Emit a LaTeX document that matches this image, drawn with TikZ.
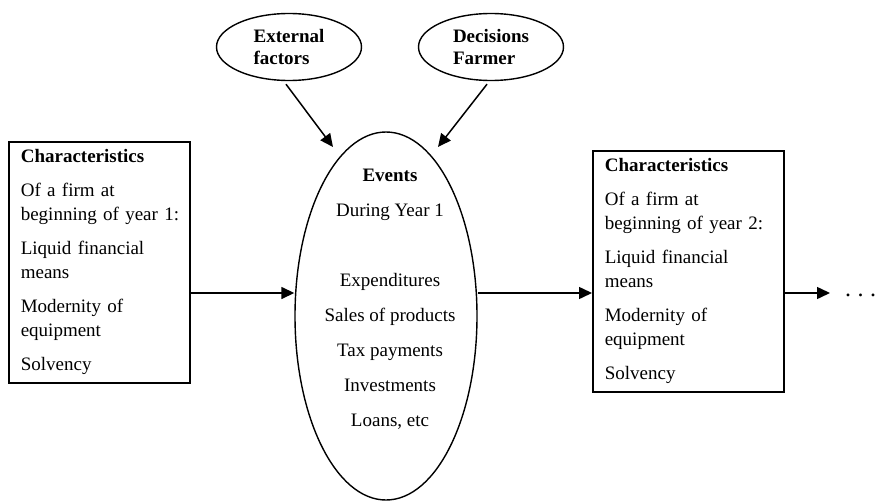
\documentclass[tikz,border=0pt]{standalone}
\usepackage{fontspec}
\setmainfont{Liberation Serif}
\usetikzlibrary{arrows.meta,shapes.geometric,calc}
\begin{document}
\begin{tikzpicture}[x=1pt,y=-1pt,
  every node/.style={font=\fontsize{19}{24}\selectfont},
  charbox/.style={draw,line width=1.6pt,rectangle,anchor=north west,align=left,inner xsep=12pt,inner ysep=4pt,minimum height=241pt},
  oval/.style={draw,line width=1.4pt,ellipse,inner sep=0pt},
  toptext/.style={align=left,font=\bfseries\fontsize{19}{22}\selectfont},
  arr/.style={-{Triangle[length=13pt,width=12pt]},line width=1.5pt}]
\useasboundingbox (0,0) rectangle (875,503);

\node[charbox,text width=157pt] (lbox) at (8,141) {\textbf{Characteristics}\\[10pt]
 Of a firm at\\\mbox{beginning of year 1:}\\[10pt]
 Liquid financial\\means\\[10pt]
 Modernity of\\equipment\\[10pt]
 Solvency};

\node[charbox,text width=167pt] (rbox) at (592,150) {\textbf{Characteristics}\\[10pt]
 Of a firm at\\\mbox{beginning of year 2:}\\[10pt]
 Liquid financial\\means\\[10pt]
 Modernity of\\equipment\\[10pt]
 Solvency};

\node[oval,minimum width=182pt,minimum height=368pt] (ev) at (386,316) {};
\node[align=center] (evtext) at (390,299) {\textbf{Events}\\[11pt]
 During Year 1\\[46pt]
 Expenditures\\[11pt]
 Sales of products\\[11pt]
 Tax payments\\[11pt]
 Investments\\[11pt]
 Loans, etc};

\node[oval,minimum width=145pt,minimum height=67pt,toptext] (ext) at (289,47) {External\\factors};
\node[oval,minimum width=145pt,minimum height=67pt,toptext] (dec) at (491,47) {Decisions\\Farmer};

\coordinate (t1) at (333,147);
\coordinate (t2) at (438,147);
\coordinate (row) at (0,293);

\draw[arr] ([shift={(-3,3)}]ext.south) -- (t1);
\draw[arr] ([shift={(-4,3)}]dec.south) -- (t2);

\draw[arr] (lbox.east |- row) -- (ev.west |- row);
\draw[arr] (ev.east |- row) -- (rbox.west |- row);

\node[inner sep=0pt,anchor=base west,font=\fontsize{24}{24}\selectfont] (dots) at (845,296.5) {.\hspace{6.5pt}.\hspace{6.5pt}.};
\draw[arr,shorten >=15pt] (rbox.east |- row) -- (dots.west |- row);
\end{tikzpicture}
\end{document}
